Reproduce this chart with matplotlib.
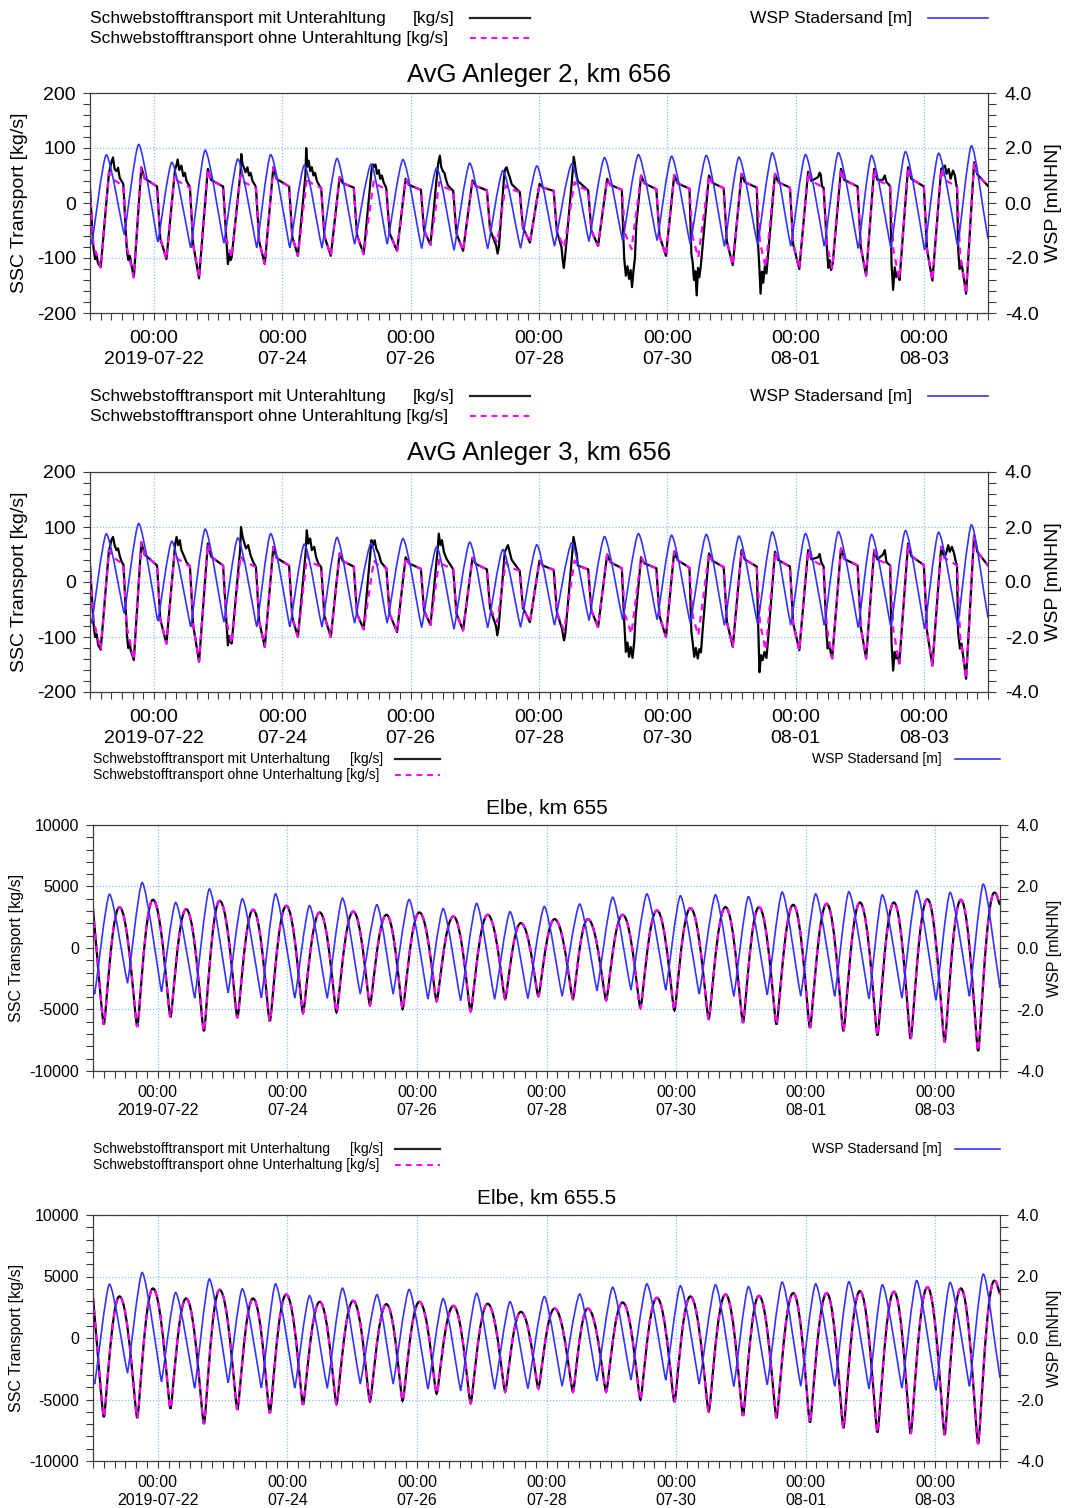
import numpy as np
import matplotlib
matplotlib.use('Agg')
from matplotlib import pyplot as plt
from matplotlib.path import Path
from matplotlib.patches import PathPatch
from matplotlib.lines import Line2D
from matplotlib.ticker import FixedLocator, MultipleLocator, FormatStrFormatter

plt.rcParams['font.family'] = ['Liberation Sans', 'DejaVu Sans']
plt.rcParams['axes.unicode_minus'] = False

# time axis: hours since 2019-07-21 00:00
tick_hours = [24, 72, 120, 168, 216, 264, 312]
tick_labels = ['00:00\n2019-07-22', '00:00\n07-24', '00:00\n07-26', '00:00\n07-28',
               '00:00\n07-30', '00:00\n08-01', '00:00\n08-03']

# WSP Stadersand [m], high / low water turning points
wsp_t = [0.0, 0.6, 6.1, 12.8, 18.2, 25.4, 30.6, 37.7, 43.1, 50.1, 55.3, 62.4, 67.6, 74.8,
         80.2, 86.8, 92.4, 99.0, 105.2, 111.2, 117.1, 124.1, 129.7, 136.2, 142.1, 148.8,
         154.5, 161.1, 167.2, 173.8, 180.3, 186.7, 192.5, 199.3, 205.2, 212.2, 217.6, 224.6,
         230.6, 237.4, 242.8, 249.8, 255.3, 262.2, 267.7, 274.8, 280.0, 287.5, 292.4, 299.7,
         305.1, 312.3, 317.5, 324.7, 329.8, 336.0]
wsp_v = [-1.30, -1.50, 1.75, -1.15, 2.13, -1.42, 1.48, -1.63, 1.92, -1.46, 1.60, -1.62, 1.76, -1.63,
         1.38, -1.64, 1.62, -1.50, 1.41, -1.50, 1.58, -1.66, 1.28, -1.72, 1.45, -1.67,
         1.18, -1.65, 1.35, -1.57, 1.43, -1.40, 1.65, -1.37, 1.76, -1.37, 1.70, -1.50,
         1.73, -1.58, 1.67, -1.52, 1.82, -1.57, 1.76, -1.57, 1.83, -1.65, 1.73, -1.63,
         1.87, -1.70, 1.81, -1.57, 2.08, -1.30]

# AvG Anleger 2 / 3: SSC transport [kg/s] without maintenance (shared read-off times)
anl_t = [0.0, 1.2, 4.0,
         7.1, 8.3, 12.5, 13.7, 16.4,
         19.2, 20.4, 25.1, 26.3, 28.6,
         31.6, 32.8, 37.4, 38.6, 40.8,
         44.1, 45.3, 49.8, 51.0, 53.0,
         56.3, 57.5, 62.1, 63.3, 65.4,
         68.6, 69.8, 74.5, 75.7, 77.8,
         81.2, 82.4, 86.5, 87.7, 90.1,
         93.4, 94.6, 98.7, 99.9, 102.4,
         106.2, 107.4, 110.9, 112.1, 114.9,
         118.1, 119.3, 123.8, 125.0, 127.4,
         130.7, 131.9, 135.9, 137.1, 139.6,
         143.1, 144.3, 148.5, 149.7, 152.4,
         155.5, 156.7, 160.8, 162.0, 164.6,
         168.2, 169.4, 173.5, 174.7, 177.4,
         181.3, 182.5, 186.4, 187.6, 190.1,
         193.5, 194.7, 199.0, 200.2, 202.6,
         206.2, 207.4, 211.9, 213.1, 215.5,
         218.6, 219.8, 224.3, 225.5, 227.6,
         231.6, 232.8, 237.1, 238.3, 240.5,
         243.8, 245.0, 249.5, 250.7, 252.8,
         256.3, 257.5, 261.9, 263.1, 265.4,
         268.7, 269.9, 274.5, 275.7, 277.7,
         281.0, 282.2, 287.2, 288.4, 290.4,
         293.4, 294.6, 299.4, 300.6, 302.8,
         306.1, 307.3, 312.0, 313.2, 315.2,
         318.5, 319.7, 324.4, 325.6, 327.8,
         330.8, 332.0, 336.0]

anl2_ohne = [25, -75, -117,
             55, 44, 31, -78, -135,
             65, 45, 30, -65, -102,
             51, 40, 28, -75, -137,
             62, 42, 30, -65, -99,
             50, 38, 27, -70, -111,
             65, 44, 30, -62, -96,
             47, 37, 27, -60, -96,
             47, 36, 28, -58, -93,
             41, 33, 25, -55, -87,
             44, 33, 24, -50, -76,
             38, 30, 22, -55, -87,
             41, 31, 23, -48, -72,
             32, 26, 20, -45, -72,
             35, 28, 22, -52, -81,
             38, 30, 23, -50, -78,
             44, 33, 24, -55, -84,
             50, 36, 25, -60, -96,
             51, 36, 26, -62, -99,
             50, 37, 27, -70, -113,
             53, 38, 28, -72, -117,
             53, 38, 28, -75, -120,
             57, 40, 28, -75, -119,
             62, 42, 30, -80, -132,
             62, 42, 30, -85, -138,
             65, 44, 30, -85, -141,
             62, 42, 30, -95, -165,
             74, 52, 31]

anl3_ohne = [30, -67, -123,
             58, 46, 32, -80, -142,
             72, 50, 30, -68, -112,
             52, 42, 28, -78, -145,
             70, 46, 30, -70, -112,
             48, 38, 27, -72, -118,
             64, 44, 30, -65, -100,
             48, 37, 27, -62, -100,
             52, 38, 28, -58, -86,
             39, 32, 25, -58, -91,
             45, 34, 24, -52, -78,
             42, 32, 23, -57, -88,
             44, 33, 23, -48, -73,
             36, 28, 20, -47, -73,
             39, 30, 22, -55, -88,
             39, 30, 23, -52, -82,
             50, 36, 25, -60, -94,
             45, 34, 25, -62, -100,
             56, 40, 26, -62, -97,
             52, 39, 27, -72, -118,
             58, 41, 28, -75, -124,
             55, 40, 28, -75, -124,
             58, 41, 28, -82, -139,
             61, 42, 30, -82, -139,
             58, 41, 30, -88, -148,
             70, 47, 31, -90, -152,
             64, 44, 30, -100, -176,
             85, 55, 30]

# stretches where the "mit Unterhaltung" series departs from the smooth one
anl2_spikes = [
    [(1.4, -85), (1.9, -102), (2.4, -92), (3.0, -110)],
    [(7.2, 56), (8.0, 74), (8.6, 83), (9.2, 62), (9.9, 58), (10.5, 64), (11.1, 46), (11.8, 40), (12.4, 35)],
    [(13.9, -90), (14.4, -104), (14.9, -96), (15.4, -110)],
    [(31.8, 60), (32.3, 68), (32.8, 79), (33.4, 60), (34.2, 68), (34.9, 49), (35.5, 55), (36.1, 40), (37.2, 31)],
    [(51.1, -75), (51.6, -111), (52.1, -92), (52.6, -104)],
    [(56.3, 55), (56.6, 89), (57.0, 72), (57.6, 64), (58.2, 56), (58.9, 65), (59.5, 50), (60.1, 55), (60.8, 40), (61.8, 32)],
    [(80.6, 50), (80.9, 100), (81.3, 66), (81.8, 77), (82.4, 58), (83.0, 65), (83.6, 50), (84.2, 55), (84.9, 40), (86.0, 30)],
    [(105.3, 58), (105.8, 70), (106.3, 66), (106.8, 70), (107.4, 53), (108.0, 60), (108.6, 44), (109.2, 50), (109.9, 37), (110.8, 28)],
    [(129.4, 30), (129.9, 55), (130.3, 73), (130.9, 86), (131.4, 66), (132.0, 58), (132.6, 55), (133.2, 43), (133.9, 32)],
    [(152.0, -78), (152.5, -92), (153.0, -80)],
    [(155.0, 52), (155.4, 62), (155.9, 65), (156.4, 56), (157.1, 46), (157.8, 34)],
    [(176.4, -80), (176.9, -105), (177.3, -118), (177.8, -96)],
    [(180.4, 45), (180.8, 72), (181.0, 84), (181.4, 72), (181.8, 58), (182.5, 40)],
    [(199.5, -55), (199.9, -102), (200.5, -132), (201.1, -115), (201.7, -138), (202.3, -122), (202.8, -153), (203.3, -125), (203.9, -100), (204.4, -40)],
    [(225.0, -92), (225.5, -108), (226.0, -140), (226.5, -124), (227.0, -168), (227.5, -118), (228.0, -135), (228.5, -116), (229.0, -90)],
    [(249.9, -70), (250.4, -112), (250.9, -165), (251.4, -125), (251.9, -145), (252.5, -115), (253.1, -128), (253.6, -100)],
    [(272.4, 47), (273.0, 55), (273.4, 52), (273.9, 30)],
    [(275.9, -95), (276.3, -118), (276.8, -104), (277.3, -122), (277.9, -110)],
    [(296.6, 42), (297.4, 50), (298.0, 38), (298.8, 34)],
    [(299.9, -110), (300.5, -158), (301.1, -117), (301.7, -135), (302.3, -126), (302.9, -140)],
    [(318.6, 62), (319.9, 68), (320.5, 53), (321.3, 62), (322.0, 44), (322.9, 59), (323.6, 50), (324.2, 31)],
    [(324.9, -90), (325.4, -120), (326.0, -108), (326.6, -125)],
]

anl3_spikes = [
    [(1.4, -80), (1.9, -100), (2.5, -95), (3.1, -115)],
    [(7.4, 62), (8.0, 76), (8.6, 82), (9.2, 67), (9.9, 58), (10.5, 61), (11.1, 48), (11.9, 36)],
    [(13.8, -95), (14.3, -120), (14.8, -110), (15.3, -125)],
    [(31.9, 70), (32.4, 82), (33.0, 67), (33.6, 76), (34.2, 58), (35.1, 48), (36.1, 36)],
    [(51.2, -85), (51.6, -115), (52.0, -98), (52.4, -108)],
    [(56.2, 60), (56.5, 100), (57.1, 82), (57.8, 70), (58.4, 61), (59.2, 67), (60.1, 48), (61.1, 36)],
    [(80.7, 55), (81.1, 94), (81.7, 70), (82.4, 79), (83.0, 58), (83.9, 64), (84.6, 45), (85.5, 33)],
    [(105.0, 60), (105.3, 76), (105.9, 67), (106.5, 76), (107.1, 61), (108.0, 52), (108.9, 36), (109.9, 30)],
    [(129.6, 35), (130.1, 60), (130.5, 88), (131.1, 67), (131.7, 76), (132.4, 55), (133.4, 42)],
    [(151.9, -80), (152.4, -97), (152.9, -82)],
    [(155.2, 55), (155.8, 61), (156.4, 67), (157.0, 55), (157.8, 40)],
    [(176.6, -85), (177.1, -100), (177.4, -106), (177.9, -92)],
    [(180.4, 50), (180.9, 82), (181.5, 67), (182.2, 48)],
    [(199.8, -65), (200.5, -127), (201.1, -110), (201.7, -136), (202.3, -118), (203.0, -138), (203.6, -110), (204.2, -60)],
    [(225.0, -90), (225.5, -110), (226.1, -136), (226.7, -120), (227.4, -139), (228.0, -122), (228.6, -128), (229.1, -95)],
    [(249.9, -60), (250.5, -164), (251.1, -133), (251.7, -142), (252.4, -127), (253.1, -138), (253.7, -105)],
    [(272.4, 45), (273.0, 51), (273.6, 36)],
    [(275.6, -95), (276.0, -121), (276.6, -110), (277.2, -130), (277.7, -139)],
    [(296.7, 50), (297.4, 58), (298.0, 36)],
    [(299.9, -110), (300.5, -161), (301.1, -127), (301.7, -139), (302.3, -132), (302.8, -148)],
    [(320.5, 55), (321.1, 67), (321.7, 55), (322.5, 64), (323.3, 52), (324.0, 36)],
    [(324.8, -90), (325.5, -121), (326.1, -112), (326.7, -135)],
]

# Elbe km 655 / 655.5: SSC transport [kg/s], turning points (both series coincide)
elbe_t = [0.0, 4.0, 9.8, 16.4, 22.2, 28.7, 34.5, 41.1, 46.9, 53.5, 59.3, 65.5, 71.6, 77.8,
          84.0, 90.2, 96.4, 102.6, 108.7, 114.7, 120.9, 127.3, 133.5, 139.9, 146.2, 152.7,
          158.5, 165.0, 171.0, 177.8, 183.3, 190.1, 196.2, 202.8, 208.9, 215.4, 221.3, 228.1,
          234.3, 240.8, 246.7, 253.2, 259.4, 265.6, 271.8, 278.0, 284.1, 290.6, 296.7, 302.9,
          309.1, 315.5, 321.5, 327.9, 333.9, 336.0]
e655_v = [3160, -6220, 3325, -6400, 3920, -5620, 3160, -6760, 3840, -5680, 3110, -5950, 3430, -5270,
          2890, -5220, 2970, -4650, 2700, -4950, 2890, -4320, 2570, -5140, 2700, -4140,
          2030, -3920, 2350, -4140, 2350, -4240, 2700, -4870, 3050, -5050, 3240, -5760,
          3325, -6080, 3325, -6220, 3510, -6490, 3600, -6760, 3700, -7110, 3700, -7380,
          3970, -7650, 3920, -8380, 4510, 3500]
e6555_v = [3300, -6430, 3380, -6510, 4030, -5750, 3215, -6980, 3920, -5830, 3215, -6100, 3540, -5420,
           2940, -5370, 3025, -5150, 2750, -5100, 2940, -4520, 2615, -5290, 2780, -4360,
           2125, -4110, 2400, -4360, 2400, -4360, 2890, -5010, 3270, -5200, 3380, -5970,
           3540, -6320, 3430, -6510, 3650, -6870, 3650, -7330, 3815, -7680, 3760, -7790,
           4140, -7880, 4030, -8610, 4660, 3570]

W, H = 1066, 1508
BLUE = '#3333ff'
MAGENTA = '#ff00ff'
GRID = '#8cbcf5'
FRAME = '#3a3a3a'
DASH = (0, (3, 2.5))


def fx(x):
    return x / W


def fy(y):
    return 1 - y / H


def smooth_path(t, v, top=0.25, bottom=0.05):
    # cubic segments between turning points, flat at every max / min
    n = len(t)

    def handle(i):
        if i == 0 or i == n - 1:
            return None
        if v[i] >= v[i - 1] and v[i] >= v[i + 1]:
            return top
        if v[i] <= v[i - 1] and v[i] <= v[i + 1]:
            return bottom
        return None

    verts = [(t[0], v[0])]
    codes = [Path.MOVETO]
    for i in range(n - 1):
        dt = t[i + 1] - t[i]
        dv = v[i + 1] - v[i]
        f0, f1 = handle(i), handle(i + 1)
        c0 = (t[i] + f0 * dt, v[i]) if f0 is not None else (t[i] + dt / 3, v[i] + dv / 3)
        c1 = (t[i + 1] - f1 * dt, v[i + 1]) if f1 is not None else (t[i + 1] - dt / 3, v[i + 1] - dv / 3)
        verts += [c0, c1, (t[i + 1], v[i + 1])]
        codes += [Path.CURVE4] * 3
    return Path(verts, codes)


def with_spikes(t, v, windows):
    t = np.asarray(t, float)
    v = np.asarray(v, float)
    keep = np.ones(len(t), bool)
    extra_t, extra_v = [], []
    for w in windows:
        keep &= ~((t >= w[0][0]) & (t <= w[-1][0]))
        extra_t += [p[0] for p in w]
        extra_v += [p[1] for p in w]
    tt = np.concatenate([t[keep], extra_t])
    vv = np.concatenate([v[keep], extra_v])
    order = np.argsort(tt)
    return tt[order], vv[order]


def make_panel(top, bottom, left, right, ylim, ymajor, yminor, fs, xpad, rpad):
    ax = fig.add_axes([fx(left), fy(bottom), (right - left) / W, (bottom - top) / H])
    ax.set_xlim(0, 336)
    ax.set_ylim(*ylim)
    ax.set_xticks(tick_hours, tick_labels)
    for lab in ax.get_xticklabels():
        lab.set_linespacing(1.3)
    ax.xaxis.set_minor_locator(MultipleLocator(4))
    ax.yaxis.set_major_locator(MultipleLocator(ymajor))
    ax.yaxis.set_minor_locator(MultipleLocator(yminor))
    ax.tick_params(which='both', direction='out', length=5, width=0.8, color=FRAME,
                   labelsize=fs, pad=5)
    ax.tick_params(axis='x', pad=xpad)
    ax.grid(True, which='major', color=GRID, linestyle=(0, (1, 1.5)), linewidth=0.9)
    for sp in ax.spines.values():
        sp.set_color(FRAME)
    ax2 = ax.twinx()
    ax2.set_ylim(-4, 4)
    ax2.yaxis.set_major_locator(FixedLocator([-4, -2, 0, 2, 4]))
    ax2.yaxis.set_major_formatter(FormatStrFormatter('%.1f'))
    ax2.yaxis.set_minor_locator(MultipleLocator(0.4))
    ax2.tick_params(which='both', direction='out', length=6, width=0.8, color=FRAME,
                    labelsize=fs, pad=rpad)
    for sp in ax2.spines.values():
        sp.set_color(FRAME)
    ax2.add_patch(PathPatch(smooth_path(wsp_t, wsp_v, 0.22, 0.05), fill=False,
                            edgecolor=BLUE, lw=1.2))
    return ax


def legend(y1, y2, left, unit_right, l0, l1, wsp_right, w0, w1, word, fs):
    fig.text(fx(left), fy(y1), f'Schwebstofftransport mit {word}', fontsize=fs, va='center')
    fig.text(fx(unit_right), fy(y1), '[kg/s]', fontsize=fs, va='center', ha='right')
    fig.text(fx(left), fy(y2), f'Schwebstofftransport ohne {word} [kg/s]', fontsize=fs, va='center')
    fig.text(fx(wsp_right), fy(y1), 'WSP Stadersand [m]', fontsize=fs, va='center', ha='right')
    fig.add_artist(Line2D([fx(l0), fx(l1)], [fy(y1)] * 2, color='#222222', lw=1.6))
    fig.add_artist(Line2D([fx(l0), fx(l1)], [fy(y2)] * 2, color=MAGENTA, lw=1.4, ls=DASH))
    fig.add_artist(Line2D([fx(w0), fx(w1)], [fy(y1)] * 2, color=BLUE, lw=1.2))


def labels(title, tx, ty, yc, lx, rx, fs_title, fs_lab):
    fig.text(fx(tx), fy(ty), title, fontsize=fs_title, ha='center', va='center')
    fig.text(fx(lx), fy(yc), 'SSC Transport [kg/s]', fontsize=fs_lab, rotation=90,
             ha='center', va='center')
    fig.text(fx(rx), fy(yc), 'WSP [mNHN]', fontsize=fs_lab, rotation=90,
             ha='center', va='center')


fig = plt.figure(figsize=(W / 100, H / 100), dpi=100)

# --- AvG Anleger 2 and 3 ---
for top, bottom, leg_y, title_y, title, ohne, spikes in [
        (93, 313, 18, 75, 'AvG Anleger 2, km 656', anl2_ohne, anl2_spikes),
        (472, 692, 396, 453, 'AvG Anleger 3, km 656', anl3_ohne, anl3_spikes)]:
    ax = make_panel(top, bottom, 90, 988, (-200, 200), 100, 20, 14, 7, 6)
    mit_t, mit_v = with_spikes(anl_t, ohne, spikes)
    ax.plot(mit_t, mit_v, color='black', lw=1.6, zorder=2)
    ax.plot(anl_t, ohne, color=MAGENTA, lw=1.6, ls=DASH, zorder=3)
    legend(leg_y, leg_y + 20, 90, 454, 470, 530, 912, 928, 988, 'Unterahltung', 12.5)
    labels(title, 539, title_y, (top + bottom) / 2, 20, 1054, 18.5, 14)

# --- Elbe km 655 and 655.5 ---
for top, bottom, leg_y, title_y, title, vals in [
        (825, 1071, 759, 808, 'Elbe, km 655', e655_v),
        (1215, 1461, 1149, 1198, 'Elbe, km 655.5', e6555_v)]:
    ax = make_panel(top, bottom, 93, 1000, (-10000, 10000), 5000, 1000, 11.5, 5, 6)
    path = smooth_path(elbe_t, vals, 0.5, 0.12)
    ax.add_patch(PathPatch(path, fill=False, edgecolor='black', lw=1.6, zorder=2))
    ax.add_patch(PathPatch(path, fill=False, edgecolor=MAGENTA, lw=1.6, ls=DASH, zorder=3))
    legend(leg_y, leg_y + 16, 93, 383, 395, 440, 942, 955, 1000, 'Unterhaltung', 10)
    labels(title, 546.5, title_y, (top + bottom) / 2, 17, 1054, 15, 11.5)

fig.savefig('out.png', dpi=100)
